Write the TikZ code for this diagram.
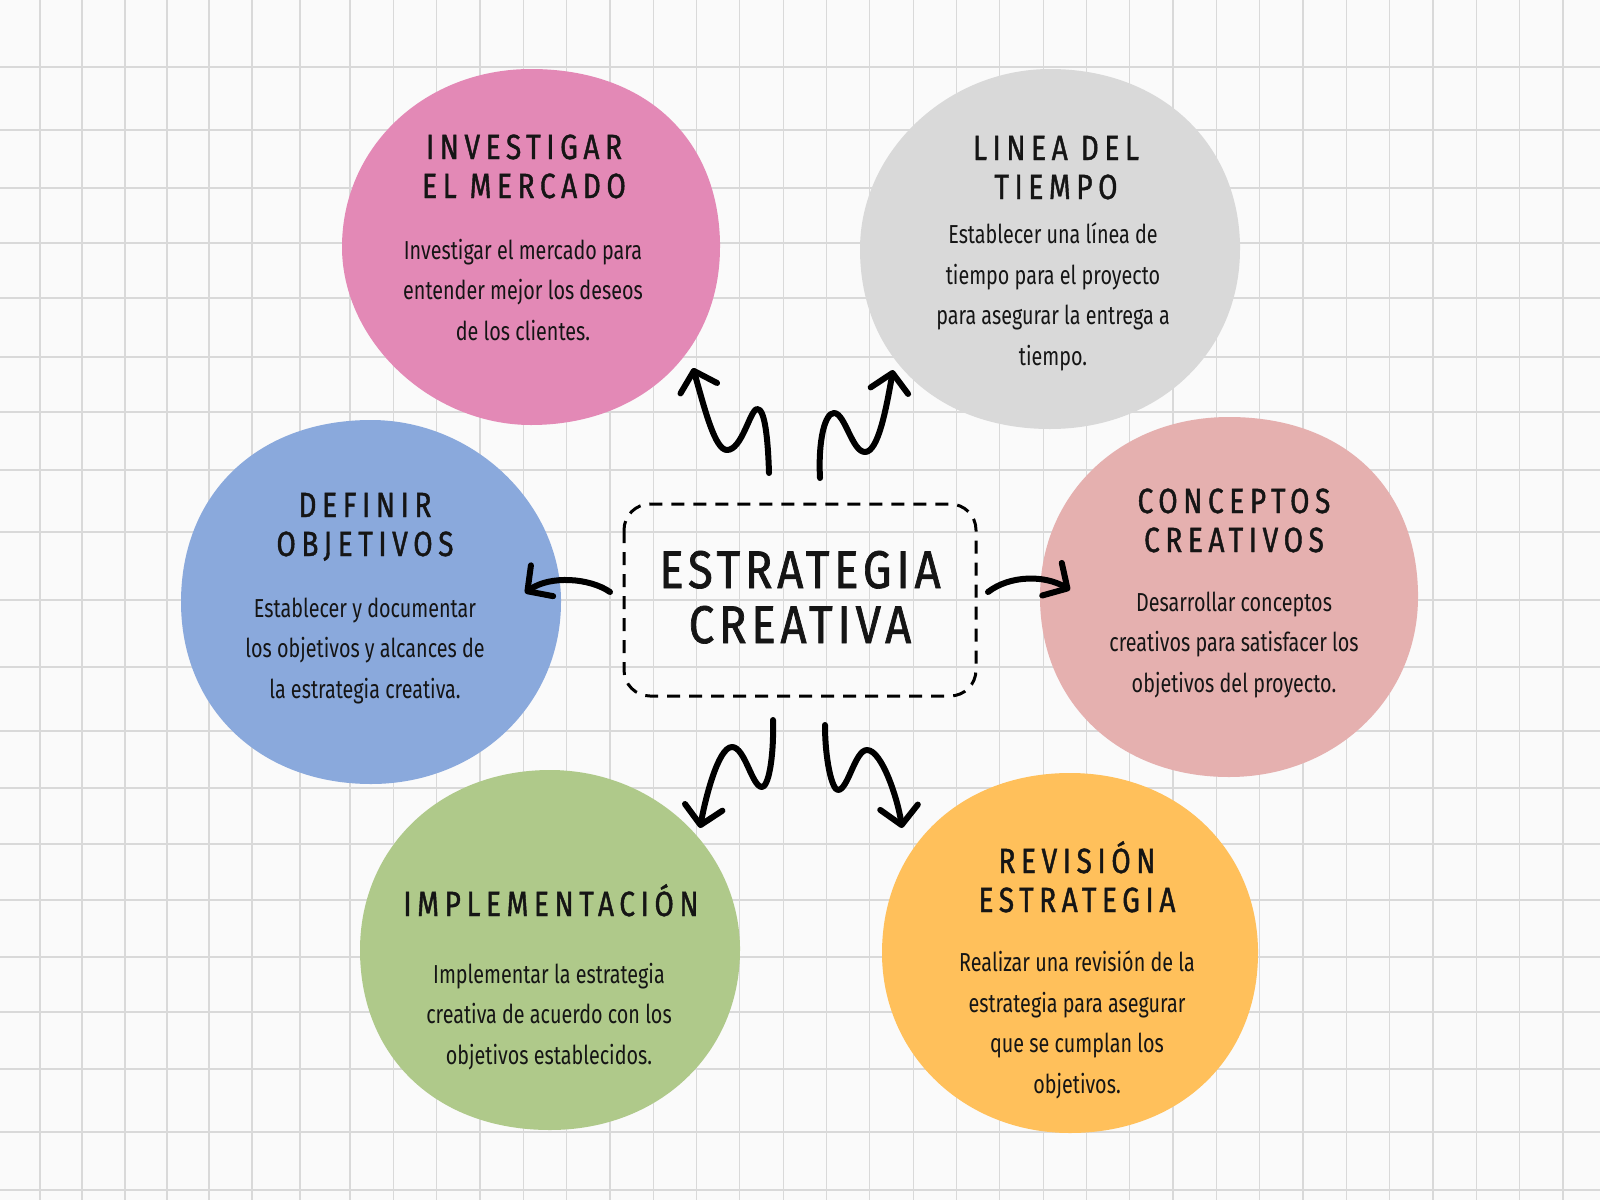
\documentclass[tikz,border=0pt]{standalone}
\usepackage{fontspec}
\usetikzlibrary{arrows.meta}
\newfontfamily\headfont[FakeStretch=0.80,LetterSpace=16,FakeBold=1.2]{Fira Sans}
\newfontfamily\titlefont[FakeStretch=0.86,LetterSpace=9,FakeBold=1.3]{Fira Sans}
\newfontfamily\bodyfont[FakeStretch=0.76]{Fira Sans}
\definecolor{paper}{HTML}{FAFAFA}
\definecolor{gridc}{HTML}{D9D9D9}
\definecolor{pinkc}{HTML}{E389B6}
\definecolor{grayc}{HTML}{D9D9D9}
\definecolor{bluec}{HTML}{8AA9DC}
\definecolor{rosec}{HTML}{E5B0AF}
\definecolor{greenc}{HTML}{AFC98A}
\definecolor{orangec}{HTML}{FFC05B}
\definecolor{inkc}{HTML}{151515}
\tikzset{
  gridline/.style={draw=gridc,line width=1.2pt},
  headtxt/.style={anchor=base,align=center,text=inkc,inner sep=0pt,font=\headfont\fontsize{35}{39}\selectfont},
  bodytxt/.style={anchor=base,align=center,text=inkc,inner sep=0pt,font=\bodyfont\fontsize{26}{40.5}\selectfont},
  titletxt/.style={anchor=base,align=center,text=inkc,inner sep=0pt,font=\titlefont\fontsize{53}{55}\selectfont},
  squiggle/.style={draw=black,line width=6pt,line cap=round,line join=round,
    -{Straight Barb[length=18pt,width=38pt,line cap=round,line join=round]}},
  dashbox/.style={draw=black,line width=3pt,dash pattern=on 13pt off 9pt,rounded corners=26pt}
}
% blob: cx, cy, rx, ry, colour, handle factors (lower right, lower left, upper left, upper right)
\newcommand\myblob[9]{%
\begin{scope}[shift={(#1,#2)},xscale=#3/100,yscale=#4/100]
\fill[#5] (100,0) .. controls (100,{55.2*#6}) and ({55.2*#6},100) .. (0,100)
  .. controls ({-55.2*#7},100) and (-100,{55.2*#7}) .. (-100,0)
  .. controls (-100,{-55.2*#8}) and ({-55.2*#8},-100) .. (0,-100)
  .. controls ({55.2*#9},-100) and (100,{-55.2*#9}) .. cycle;
\end{scope}}
\begin{document}
\begin{tikzpicture}[x=1pt,y=-1pt]
\useasboundingbox (0,0) rectangle (1600,1200);
\fill[paper] (0,0) rectangle (1600,1200);
% grid
\foreach \x in {40,82,125,167,209,252,300,350}
  \draw[gridline] (\x,0) -- (\x,1200);
\foreach \k in {1,...,29}
  \draw[gridline] ({350+43.32*\k},0) -- ({350+43.32*\k},1200);
\foreach \y in {67,130,188,243,298,357,412,470,532,600,667,731,788,844,900,957,1012,1069,1132,1190}
  \draw[gridline] (0,\y) -- (1600,\y);

% blobs
\myblob{531}{247}{189}{178}{pinkc}{1.06}{0.96}{1.02}{1.10}
\myblob{1050}{249}{190}{180}{grayc}{1.04}{1.08}{0.98}{1.06}
\myblob{371}{602}{190}{182}{bluec}{1.02}{1.06}{1.08}{0.98}
\myblob{1229}{597}{189}{180}{rosec}{1.02}{1.06}{1.04}{1.10}
\myblob{550}{950}{190}{180}{greenc}{1.04}{1.08}{1.04}{1.00}
\myblob{1070}{953}{188}{180}{orangec}{1.06}{1.02}{1.06}{1.04}

% center box
\draw[dashbox] (624,504) rectangle (976,696);
\node[titletxt] (title) at (800,643) {ESTRATEGIA\\CREATIVA};

% headings and bodies (anchor = baseline of last line)
\node[headtxt] (h1) at (524,198) {INVESTIGAR\\EL MERCADO};
\node[bodytxt] (b1) at (523,340) {Investigar el mercado para\\entender mejor los deseos\\de los clientes.};
\node[headtxt] (h2) at (1056,199) {LINEA DEL\\TIEMPO};
\node[bodytxt] (b2) at (1053,365) {Establecer una línea de\\tiempo para el proyecto\\para asegurar la entrega a\\tiempo.};
\node[headtxt] (h3) at (365,556) {DEFINIR\\OBJETIVOS};
\node[bodytxt] (b3) at (365,698) {Establecer y documentar\\los objetivos y alcances de\\la estrategia creativa.};
\node[headtxt] (h4) at (1234,552) {CONCEPTOS\\CREATIVOS};
\node[bodytxt] (b4) at (1234,692) {Desarrollar conceptos\\creativos para satisfacer los\\objetivos del proyecto.};
\node[headtxt] (h5) at (551,916) {IMPLEMENTACIÓN};
\node[bodytxt] (b5) at (549,1064) {Implementar la estrategia\\creativa de acuerdo con los\\objetivos establecidos.};
\node[headtxt] (h6) at (1077,912) {REVISIÓN\\ESTRATEGIA};
\node[bodytxt] (b6) at (1077,1093) {Realizar una revisión de la\\estrategia para asegurar\\que se cumplan los\\objetivos.};

% arrow end points
\coordinate (s1) at (769,473); \coordinate (t1) at (693,368);
\coordinate (s2) at (820,478); \coordinate (t2) at (893,370);
\coordinate (s3) at (773,720); \coordinate (t3) at (700,828);
\coordinate (s4) at (825,725); \coordinate (t4) at (902,828);
\coordinate (s5) at (610,592); \coordinate (t5) at (525,593);
\coordinate (s6) at (988,592); \coordinate (t6) at (1070,590);

\draw[squiggle] (s1) .. controls (768,440) and (765,408) .. (757,409) .. controls (750,410) and (742,450) .. (727,450) .. controls (715,450) and (705,410) .. (t1);
\draw[squiggle] (s2) .. controls (818,440) and (825,413) .. (834,413) .. controls (845,413) and (852,452) .. (865,452) .. controls (878,452) and (886,410) .. (t2);
\draw[squiggle] (s3) .. controls (774,760) and (768,787) .. (762,787) .. controls (752,787) and (745,747) .. (732,747) .. controls (718,747) and (705,800) .. (t3);
\draw[squiggle] (s4) .. controls (825,760) and (832,790) .. (838,790) .. controls (848,790) and (855,750) .. (867,750) .. controls (882,750) and (898,800) .. (t4);
\draw[squiggle] (s5) .. controls (590,578) and (550,575) .. (t5);
\draw[squiggle] (s6) .. controls (1010,575) and (1045,575) .. (t6);
\end{tikzpicture}
\end{document}
